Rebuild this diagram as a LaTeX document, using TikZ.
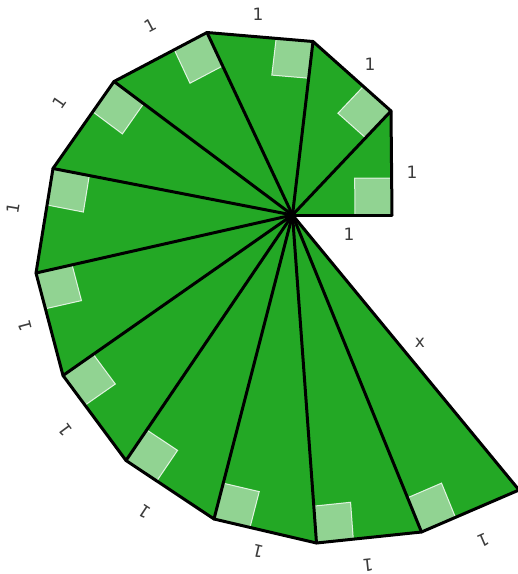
\documentclass[tikz,border=0pt]{standalone}
\usepackage{fontspec}
\setmainfont{DejaVu Sans}
\usetikzlibrary{calc}
\definecolor{spiralgreen}{RGB}{35,168,37}
\definecolor{labelgray}{RGB}{60,60,60}
\begin{document}
\begin{tikzpicture}[x=1pt,y=-1pt,
  edge/.style={line width=3pt, line join=round, line cap=round},
  rightsq/.style={fill=white, fill opacity=0.5, draw=white, draw opacity=0.8, line width=1pt},
  lbl/.style={text=labelgray, font=\fontsize{17}{20}\selectfont, inner sep=0pt}]
\useasboundingbox (0,0) rectangle (518,574);
\coordinate (C) at (292.5,215);
\coordinate (V1) at (392,215);
\coordinate (V2) at (391,111);
\coordinate (V3) at (313,41.5);
\coordinate (V4) at (207,32.5);
\coordinate (V5) at (114,81.5);
\coordinate (V6) at (53,168.5);
\coordinate (V7) at (36,273);
\coordinate (V8) at (63,375.5);
\coordinate (V9) at (126,460.5);
\coordinate (V10) at (214,519);
\coordinate (V11) at (316.5,543);
\coordinate (V12) at (421.5,532);
\coordinate (V13) at (519,490);
\fill[spiralgreen] (C) -- (V1) -- (V2) -- (V3) -- (V4) -- (V5) -- (V6) -- (V7)
  -- (V8) -- (V9) -- (V10) -- (V11) -- (V12) -- (V13) -- cycle;
\foreach \k/\n in {1/2,2/3,3/4,4/5,5/6,6/7,7/8,8/9,9/10,10/11,11/12,12/13} {
  \path ($(V\k)!37pt!(C)$) coordinate (a\k) ($(V\k)!37pt!(V\n)$) coordinate (b\k);
  \draw[rightsq] (V\k) -- (a\k) -- ($(a\k)+(b\k)-(V\k)$) -- (b\k) -- cycle;
}
\draw[edge] (V1) -- (V2) -- (V3) -- (V4) -- (V5) -- (V6) -- (V7)
  -- (V8) -- (V9) -- (V10) -- (V11) -- (V12) -- (V13);
\foreach \k in {1,...,13} \draw[edge] (C) -- (V\k);
\node[lbl] (l1) at (349,234) {1};
\node[lbl] (l2) at (412,172) {1};
\node[lbl] (l3) at (370,64) {1};
\node[lbl] (l4) at (258,14) {1};
\node[lbl, rotate=27.8] (l5) at (150,25) {1};
\node[lbl, rotate=55] (l6) at (60,103) {1};
\node[lbl, rotate=80.8] (l7) at (13,208) {1};
\node[lbl, rotate=104.8] (l8) at (25,326) {1};
\node[lbl, rotate=126.5] (l9) at (65,430) {1};
\node[lbl, rotate=146.4] (l10) at (145,512) {1};
\node[lbl, rotate=166.8] (l11) at (258,551) {1};
\node[lbl, rotate=186] (l12) at (368,565) {1};
\node[lbl, rotate=203.3] (l13) at (483,540) {1};
\node[lbl] (lx) at (420,343) {x};
\end{tikzpicture}
\end{document}
